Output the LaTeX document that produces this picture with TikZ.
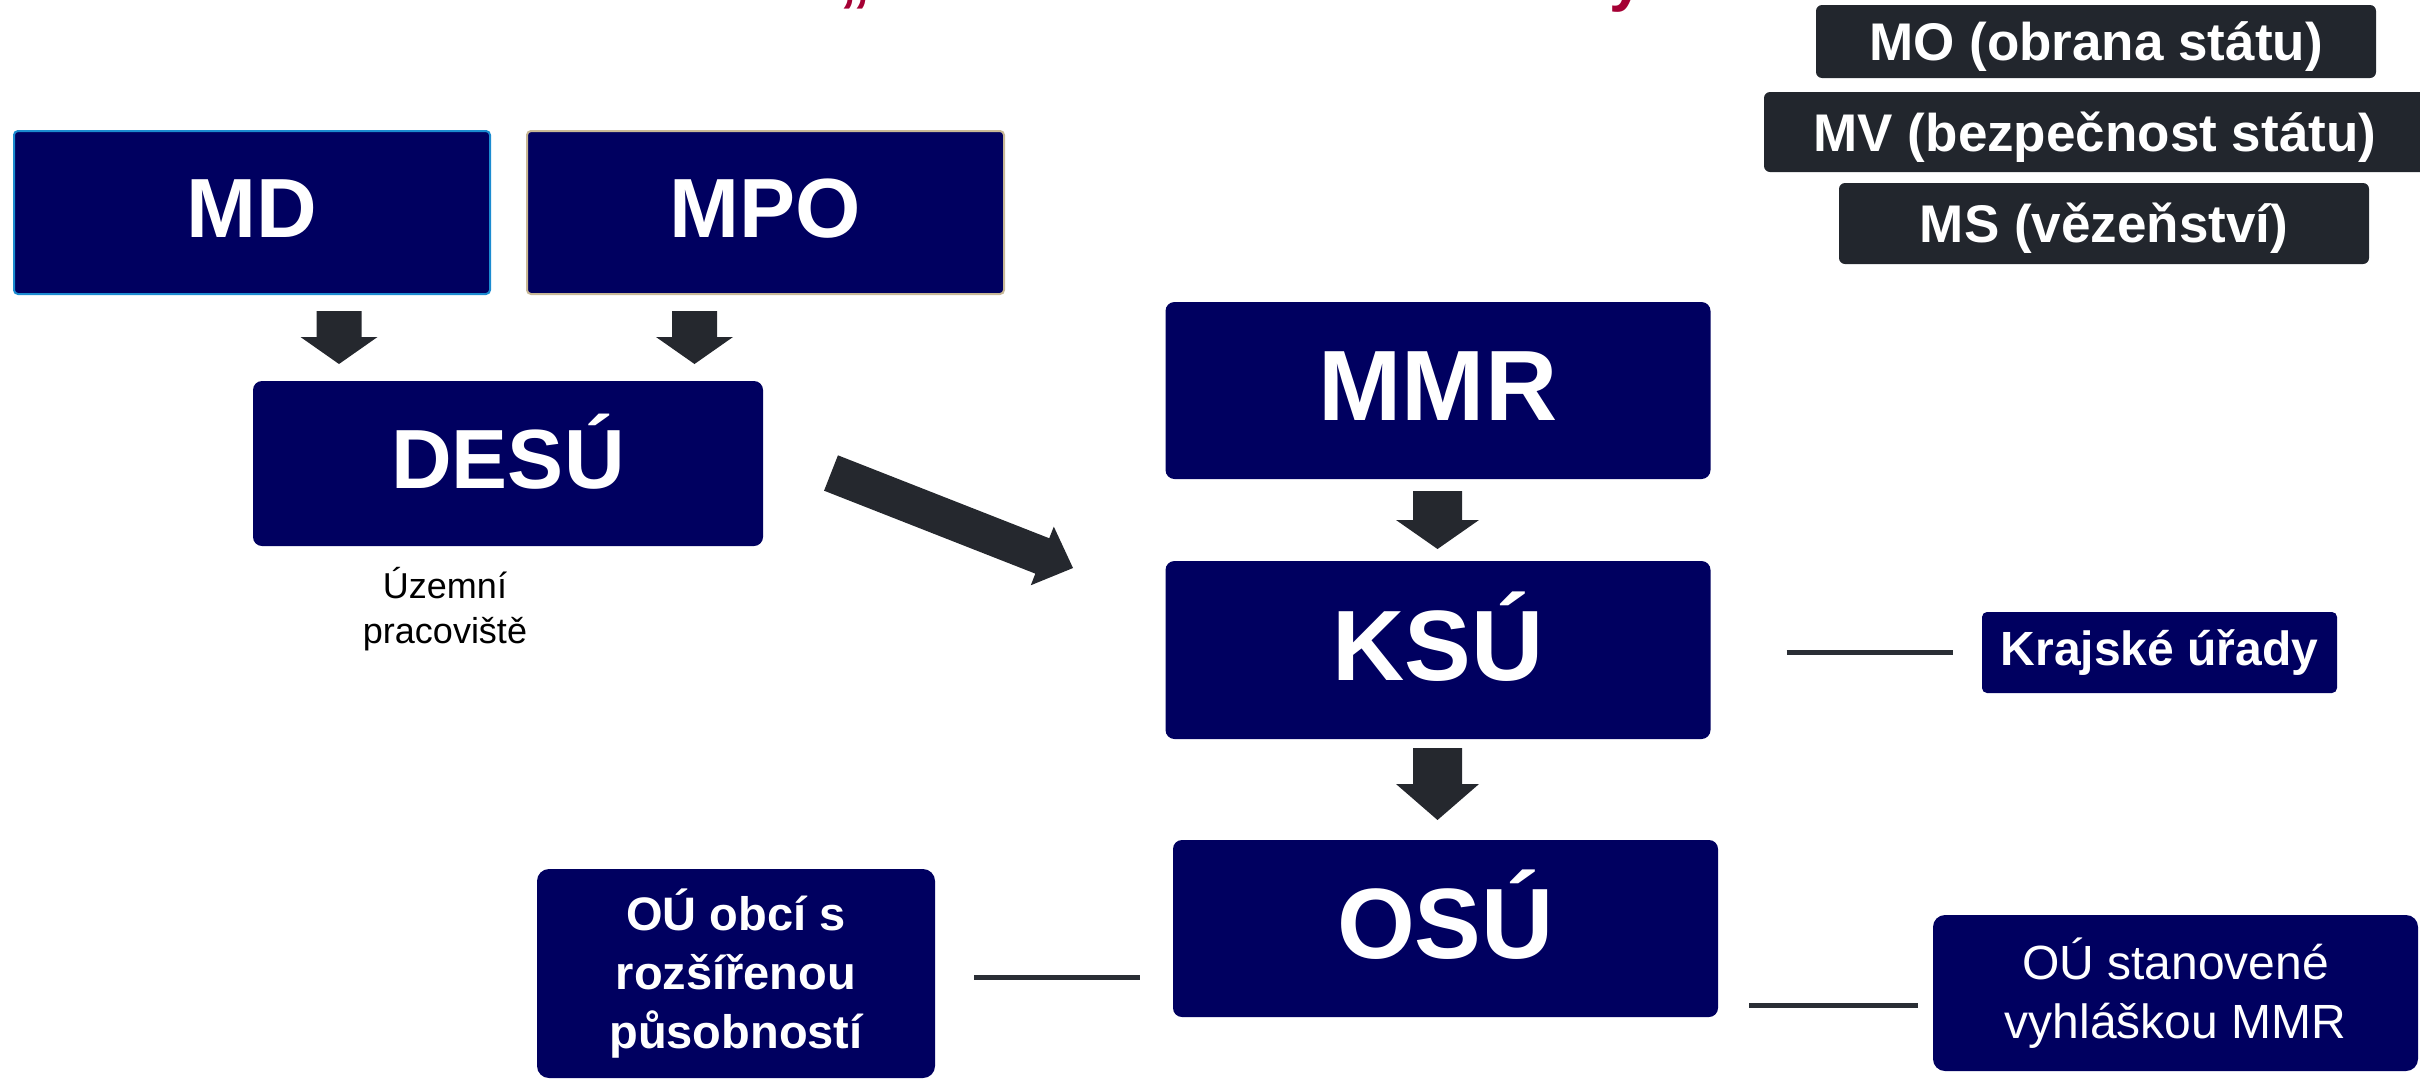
\documentclass[tikz,border=0pt]{standalone}
\usepackage{fontspec}
\setmainfont{Liberation Sans}
\usetikzlibrary{calc}
\definecolor{navy}{HTML}{000060}
\definecolor{darkbox}{HTML}{22262D}
\definecolor{arrowc}{HTML}{25282E}
\definecolor{linec}{HTML}{2A2E35}
\definecolor{titlered}{HTML}{A50034}
\definecolor{mdborder}{HTML}{1B8BD0}
\definecolor{mpoborder}{HTML}{C8B896}
\newcommand\fsz[2]{\fontsize{#1}{#2}\selectfont}
\newcommand\blockarr[5]{%
  \coordinate (ba-h) at ($(#2)!#5!(#1)$);
  \fill[arrowc] ($(#1)!#3!90:(#2)$) -- ($(ba-h)!#3!90:(#2)$) -- ($(ba-h)!#4!90:(#2)$) -- (#2)
    -- ($(ba-h)!#4!-90:(#2)$) -- ($(ba-h)!#3!-90:(#2)$) -- ($(#1)!#3!-90:(#2)$) -- cycle;
}
\tikzset{
  navybox/.style={fill=navy, text=white, rounded corners=9pt, inner sep=0pt, align=center},
  bigA/.style={navybox, font=\fsz{84}{100}\bfseries, text height=60pt, text depth=10pt},
  bigB/.style={navybox, font=\fsz{100}{120}\bfseries, text height=72pt, text depth=12pt},
  darkb/.style={fill=darkbox, text=white, rounded corners=6pt, inner sep=0pt,
    font=\fsz{53}{64}\bfseries, text height=38pt, text depth=0pt},
  conn/.style={draw=linec, line width=5pt},
  titlefrag/.style={text=titlered, font=\fsz{62}{74}\bfseries, inner sep=0pt},
}
\begin{document}
\begin{tikzpicture}[x=1pt,y=-1pt]
\useasboundingbox (0,0) rectangle (2420,1080);
\clip (0,0) rectangle (2420,1080);

% clipped title fragments
\node[titlefrag, anchor=base] (tq) at (855,-1) {„};
\node[titlefrag, anchor=base] (ty) at (1627,-1) {y};

% left group
\node[bigA, rounded corners=4pt, draw=mdborder, line width=2pt, minimum width=476pt, minimum height=163pt] (md) at (252,212.5) {MD};
\node[bigA, rounded corners=4pt, draw=mpoborder, line width=2pt, minimum width=477pt, minimum height=163pt] (mpo) at (765.5,212.5) {MPO};
\node[bigA, minimum width=510pt, minimum height=165pt] (desu) at (508,463.5) {DESÚ};
\node[font=\fsz{36}{45}, align=center, inner sep=0pt] (uzemni) at (445,609) {Územní\\pracoviště};

% centre column
\node[bigB, minimum width=545pt, minimum height=177pt] (mmr) at (1438,390.5) {MMR};
\node[bigB, minimum width=545pt, minimum height=178pt] (ksu) at (1438,650) {KSÚ};
\node[bigB, minimum width=545pt, minimum height=177pt] (osu) at (1445.5,928.5) {OSÚ};

% side boxes
\node[navybox, rounded corners=5pt, font=\fsz{48}{58}\bfseries, minimum width=355pt, minimum height=81pt] (kraj) at (2159.5,652.5) {Krajské úřady};
\node[navybox, rounded corners=12pt, font=\fsz{47}{59}\bfseries, minimum width=398pt, minimum height=209pt] (obce) at (736,973.5) {OÚ obcí s\\rozšířenou\\působností};
\node[navybox, rounded corners=12pt, font=\fsz{48}{59}, minimum width=485pt, minimum height=156pt] (stan) at (2175.5,993) {OÚ stanovené\\vyhláškou MMR};

% top right dark boxes
\node[darkb, minimum width=560pt, minimum height=73pt] (mo) at (2096,41.5) {MO (obrana státu)};
\node[darkb, minimum width=662pt, minimum height=80pt] (mv) at (2095,132) {MV (bezpečnost státu)};
\node[darkb, minimum width=530pt, minimum height=81pt] (ms) at (2104,223.5) {MS (vězeňství)};

% block arrows
\coordinate (a1s) at (339,311);    \coordinate (a1e) at (339,364);
\coordinate (a2s) at (694.5,311);  \coordinate (a2e) at (694.5,364);
\coordinate (a3s) at (1437.5,491); \coordinate (a3e) at (1437.5,549);
\coordinate (a4s) at (1437.5,748); \coordinate (a4e) at (1437.5,820);
\coordinate (a5s) at (831,473);    \coordinate (a5e) at (1073,568);
\blockarr{a1s}{a1e}{22.5pt}{38.5pt}{27pt}
\blockarr{a2s}{a2e}{22.5pt}{38.5pt}{27pt}
\blockarr{a3s}{a3e}{24.5pt}{41.5pt}{29pt}
\blockarr{a4s}{a4e}{24.5pt}{41.5pt}{36pt}
\blockarr{a5s}{a5e}{19pt}{31.5pt}{33pt}

% connector lines
\draw[conn, shorten <=76pt, shorten >=29pt] (ksu.east |- kraj.west) -- (kraj.west);
\draw[conn, shorten <=39pt, shorten >=33pt] ([yshift=-3.5pt]obce.east) -- ([yshift=-3.5pt]obce.east -| osu.west);
\draw[conn, shorten <=31pt, shorten >=15pt] ([yshift=-12pt]stan.west -| osu.east) -- ([yshift=-12pt]stan.west);
\end{tikzpicture}
\end{document}
